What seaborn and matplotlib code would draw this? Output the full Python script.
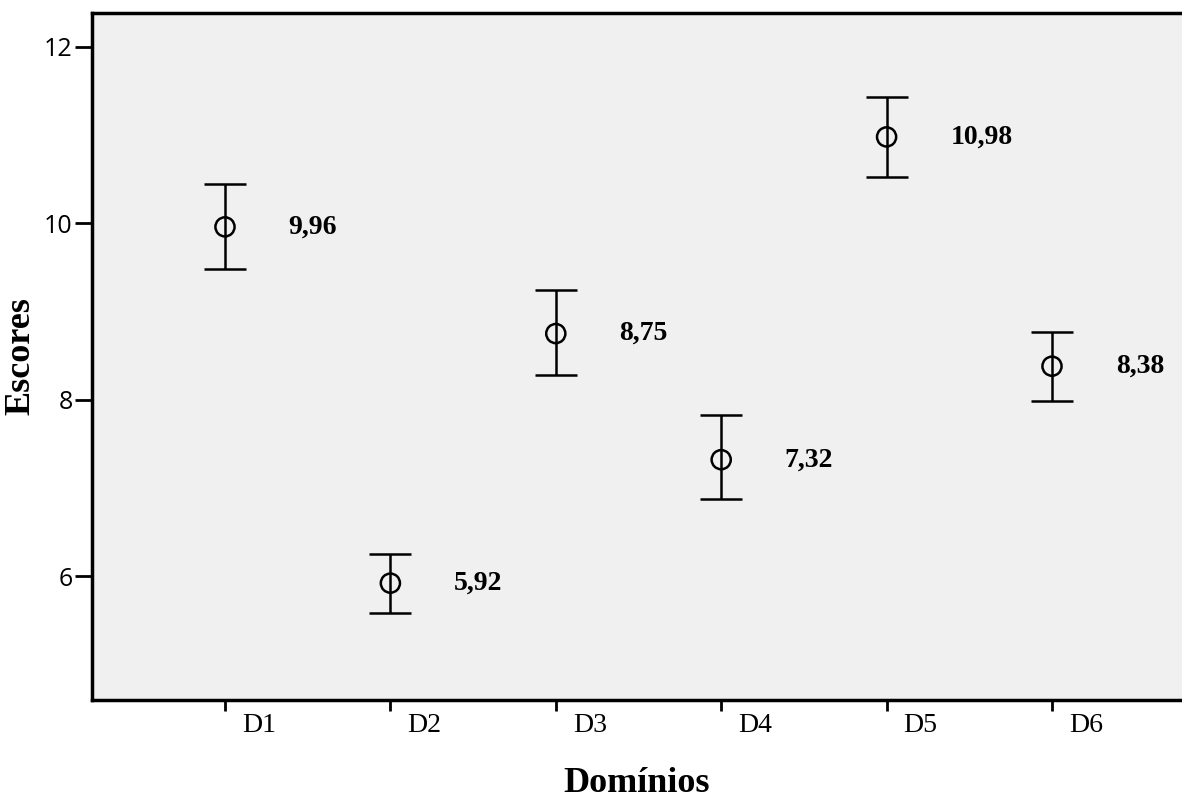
import matplotlib
matplotlib.use("Agg")
import matplotlib.pyplot as plt
import matplotlib.transforms as mtransforms
import seaborn as sns
import numpy as np
import pandas as pd

# values
dominios = ["D1", "D2", "D3", "D4", "D5", "D6"]
medias = [9.96, 5.92, 8.75, 7.32, 10.98, 8.38]
ic_inf = [9.48, 5.58, 8.28, 6.87, 10.53, 7.99]
ic_sup = [10.45, 6.25, 9.24, 7.83, 11.43, 8.77]
rotulos = ["9,96", "5,92", "8,75", "7,32", "10,98", "8,38"]
y_ticks = [6, 8, 10, 12]

sns.set_style("white")
plt.rcParams.update({"text.color": "black", "axes.labelcolor": "black",
                     "xtick.color": "black", "ytick.color": "black"})
df = pd.DataFrame({"pos": np.arange(1, 7), "media": medias})

fig = plt.figure(figsize=(11.82, 8), dpi=100)
ax = fig.add_axes([92 / 1182, 100 / 800, 1 - 92 / 1182, 687 / 800])
ax.set_facecolor("#f0f0f0")

lo = np.array(medias) - np.array(ic_inf)
hi = np.array(ic_sup) - np.array(medias)
ax.errorbar(df["pos"], df["media"], yerr=[lo, hi], fmt="none", ecolor="black",
            elinewidth=1.8, capsize=15, capthick=1.8, zorder=2)
sns.scatterplot(data=df, x="pos", y="media", ax=ax, marker="o", s=190,
                facecolor="none", edgecolor="black", linewidth=1.8, zorder=3)

for i, t in enumerate(rotulos):
    ax.text(i + 1 + 0.385, medias[i], t, fontsize=20, fontweight="bold",
            family="Liberation Serif", va="center", ha="left", color="black")

ax.set_xlim(0.196, 6.786)
ax.set_ylim(4.595, 12.385)
ax.set_xticks(df["pos"])
ax.set_xticklabels(dominios, family="Liberation Serif", fontsize=20)
ax.set_yticks(y_ticks)
ax.set_yticklabels([str(v) for v in y_ticks], family="Open Sans", fontsize=18)
ax.tick_params(axis="y", direction="out", length=12, width=2, pad=2, left=True)
ax.tick_params(axis="x", direction="out", length=8, width=2, pad=1, bottom=True)

# SPSS puts the category labels just right of the tick
shift = mtransforms.ScaledTranslation(17 / 100, 0, fig.dpi_scale_trans)
for lab in ax.get_xticklabels():
    lab.set_ha("left")
    lab.set_transform(lab.get_transform() + shift)

for s in ["left", "bottom", "top"]:
    ax.spines[s].set_linewidth(2.5)
    ax.spines[s].set_color("black")
ax.spines["right"].set_visible(False)

ax.set_xlabel("Domínios", family="Liberation Serif", fontsize=26,
              fontweight="bold")
ax.set_ylabel("Escores", family="Liberation Serif", fontsize=26,
              fontweight="bold")
ax.xaxis.set_label_coords(0.5, -0.097)
ax.yaxis.set_label_coords(-0.05, 0.5)

fig.savefig("out.png", dpi=100)
